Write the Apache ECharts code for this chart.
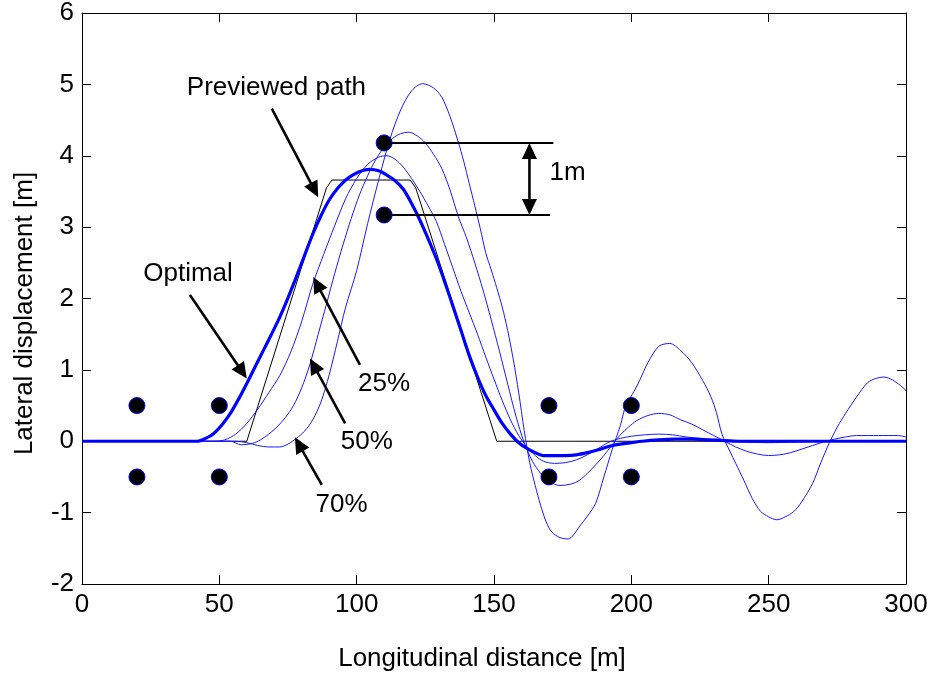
<!DOCTYPE html>
<html>
<head>
<meta charset="utf-8">
<script src="https://cdn.jsdelivr.net/npm/echarts@6/dist/echarts.min.js"></script>
<style>
html,body{margin:0;padding:0;background:#fff;}
#chart{width:935px;height:681px;}
</style>
</head>
<body>
<div id="chart"></div>
<script>
// ---- axis ticks ----
const xTicks = [0, 50, 100, 150, 200, 250, 300];
const yTicks = [-2, -1, 0, 1, 2, 3, 4, 5, 6];

// ---- previewed path (black) ----
const previewX = [0, 60, 89, 91, 119.5, 121.5, 151, 300];
const previewY = [0, 0, 3.55, 3.66, 3.66, 3.55, 0, 0];

// ---- optimal (thick blue) ----
const optX = [0,42,45,48,51,54,57,60,63,66,69,72,75,78,81,84,87,90,93,96,99,102,105,108,111,114,117,120,123,126,129,132,135,138,141,144,147,150,153,156,159,162,165,168,172,176,180,184,188,192,196,200,204,210,216,222,228,234,240,300];
const optY = [0,0,0.04,0.11,0.23,0.39,0.59,0.81,1.04,1.27,1.5,1.74,2.01,2.3,2.6,2.9,3.16,3.38,3.54,3.66,3.74,3.79,3.81,3.79,3.73,3.65,3.53,3.33,3.1,2.84,2.56,2.24,1.9,1.55,1.2,0.9,0.64,0.44,0.25,0.1,-0.02,-0.1,-0.16,-0.2,-0.2,-0.2,-0.19,-0.16,-0.12,-0.07,-0.04,-0.02,0,0.02,0.03,0.03,0.02,0.01,0,0];

// ---- 25% ----
const p25X = [0,48,52,56,60,64,68,72,76,80,84,88,92,96,100,104,108,111,114,117,120,123,126,129,132,135,138,141,144,147,150,153,156,159,162,165,168,172,176,180,184,188,192,196,200,205,210,215,220,225,230,235,240,250,260,270,280,290,300];
const p25Y = [0,0,0.02,0.1,0.25,0.45,0.68,0.92,1.25,1.68,2.2,2.62,3.02,3.4,3.68,3.88,3.98,4.0,3.95,3.84,3.68,3.5,3.3,3.08,2.76,2.43,2.1,1.8,1.5,1.18,0.87,0.57,0.3,0.08,-0.08,-0.2,-0.28,-0.31,-0.3,-0.26,-0.19,-0.1,-0.01,0.04,0.07,0.09,0.1,0.09,0.06,0.04,0.02,0,-0.01,-0.02,-0.01,0,0.01,0.01,0];

// ---- 50% ----
const p50X = [0,54,58,62,65,68,71,74,77,80,83,86,89,92,95,98,101,104,107,110,113,116,119,122,125,128,131,134,137,140,143,146,149,152,155,158,161,164,167,170,174,178,181,184,187,190,193,196,199,202,206,210,214,218,222,226,230,234,238,242,246,250,254,258,262,266,270,274,278,282,290,297,300];
const p50Y = [0,0,-0.05,-0.03,0.02,0.1,0.2,0.33,0.5,0.75,1.08,1.5,1.92,2.35,2.75,3.12,3.45,3.72,3.95,4.12,4.24,4.31,4.33,4.28,4.18,4.02,3.82,3.52,3.15,2.85,2.5,2.12,1.7,1.26,0.8,0.35,-0.02,-0.28,-0.45,-0.56,-0.62,-0.6,-0.55,-0.45,-0.33,-0.2,-0.05,0.09,0.2,0.29,0.36,0.39,0.37,0.3,0.24,0.16,0.08,0,-0.08,-0.14,-0.18,-0.2,-0.19,-0.16,-0.11,-0.06,-0.01,0.03,0.06,0.08,0.08,0.08,0.06];

// ---- 70% ----
const p70X = [0,56,60,64,68,72,75,78,81,84,87,90,93,96,100,104,108,112,116,120,124,128,131,134,137,139,141,143,145,147,149,151,153,155,157,159,161,163,165,167,169,171,174,177,179,181,184,187,190,193,196,198,201,203,206,210,214,218,222,226,229,231,233,236,238,241,244,247,250,253,256,259,262,266,269,272,275,278,282,286,289,292,295,298,300];
const p70Y = [0,0,-0.02,-0.06,-0.08,-0.08,-0.04,0.04,0.14,0.3,0.55,0.93,1.4,1.88,2.39,3.05,3.66,4.22,4.64,4.91,5.01,4.95,4.82,4.55,4.19,3.92,3.61,3.3,2.98,2.64,2.4,2.15,1.88,1.55,1.15,0.68,0.15,-0.3,-0.62,-0.9,-1.13,-1.27,-1.35,-1.37,-1.31,-1.2,-1.05,-0.87,-0.5,-0.12,0.22,0.5,0.7,0.85,1.1,1.33,1.37,1.27,1.1,0.85,0.62,0.4,0.1,-0.15,-0.31,-0.55,-0.8,-0.98,-1.06,-1.1,-1.06,-0.99,-0.85,-0.59,-0.3,-0.03,0.2,0.39,0.62,0.82,0.88,0.9,0.86,0.78,0.71];

// ---- obstacle markers ----
const dotX = [20, 50, 20, 50, 110, 110, 170, 200, 170, 200];
const dotY = [0.5, 0.5, -0.5, -0.5, 4.18, 3.17, 0.5, 0.5, -0.5, -0.5];

// ---- annotations (data coordinates) ----
const labelText = ['Previewed path', 'Optimal', '25%', '50%', '70%', '1m'];
const labelX = [70.8, 38.6, 110, 103.7, 94.5, 176.8];
const labelY = [4.95, 2.34, 0.80, -0.01, -0.89, 3.76];
const arrowFromX = [69.1, 39.3, 101.2, 95.8, 87.3, 162.9];
const arrowFromY = [4.66, 2.05, 1.07, 0.25, -0.61, 3.17];
const arrowToX = [86.0, 60.0, 84.2, 83.0, 77.5, 162.9];
const arrowToY = [3.42, 0.88, 2.30, 1.16, 0.055, 4.18];
const arrowBothEnds = [0, 0, 0, 0, 0, 1];
const gapLineY = [4.18, 3.17];
const gapLineX0 = 110;
const gapLineX1 = [171.6, 170.4];

const FONT = '"Liberation Sans", Arial, Helvetica, sans-serif';
const FS = 26;

function zip(xs, ys) { return xs.map((x, i) => [x, ys[i]]); }

const chart = echarts.init(document.getElementById('chart'), null, {renderer: 'canvas'});

const axisCommon = {
  type: 'value',
  splitLine: {show: false},
  axisLine: {show: true, onZero: false, lineStyle: {color: '#000', width: 1}},
  axisTick: {show: true, inside: true, length: 9, lineStyle: {color: '#000', width: 1}}
};

const gapLines = gapLineY.map((y, i) => [
  {coord: [gapLineX0, y], symbol: 'none'},
  {coord: [gapLineX1[i], y], symbol: 'none'}
]);

function headPolygon(tip, ux, uy, len, half) {
  const bx = tip[0] - ux * len, by = tip[1] - uy * len;
  const nx = -uy, ny = ux;
  return [tip, [bx + nx * half, by + ny * half], [bx - nx * half, by - ny * half]];
}

function renderArrow(params, api) {
  const p0 = api.coord([api.value(0), api.value(1)]);
  const p1 = api.coord([api.value(2), api.value(3)]);
  const both = api.value(4) === 1;
  const len = 16, half = 7.5;
  const dx = p1[0] - p0[0], dy = p1[1] - p0[1];
  const L = Math.hypot(dx, dy);
  const ux = dx / L, uy = dy / L;
  const s0 = both ? [p0[0] + ux * len * 0.6, p0[1] + uy * len * 0.6] : p0;
  const s1 = [p1[0] - ux * len * 0.6, p1[1] - uy * len * 0.6];
  const children = [
    {type: 'line', shape: {x1: s0[0], y1: s0[1], x2: s1[0], y2: s1[1]}, style: {stroke: '#000', lineWidth: 2.6}},
    {type: 'polygon', shape: {points: headPolygon(p1, ux, uy, len, half)}, style: {fill: '#000'}}
  ];
  if (both) {
    children.push({type: 'polygon', shape: {points: headPolygon(p0, -ux, -uy, len, half)}, style: {fill: '#000'}});
  }
  return {type: 'group', children: children};
}

const option = {
  animation: false,
  backgroundColor: '#ffffff',
  grid: {left: 82, top: 13, right: 29, bottom: 97, containLabel: false},
  xAxis: [
    Object.assign({}, axisCommon, {
      min: xTicks[0], max: xTicks[xTicks.length - 1], interval: 50, position: 'bottom',
      axisLabel: {color: '#000', fontSize: FS, fontFamily: FONT, margin: 8},
      name: 'Longitudinal distance [m]', nameLocation: 'middle', nameGap: 62,
      nameTextStyle: {color: '#000', fontSize: FS, fontFamily: FONT, padding: [0, 24, 0, 0]}
    }),
    Object.assign({}, axisCommon, {
      min: xTicks[0], max: xTicks[xTicks.length - 1], interval: 50, position: 'top',
      axisLabel: {show: false}
    })
  ],
  yAxis: [
    Object.assign({}, axisCommon, {
      min: yTicks[0], max: yTicks[yTicks.length - 1], interval: 1, position: 'left',
      axisLabel: {color: '#000', fontSize: FS, fontFamily: FONT, margin: 8},
      name: 'Lateral displacement [m]', nameLocation: 'middle', nameGap: 44,
      nameTextStyle: {color: '#000', fontSize: FS, fontFamily: FONT, padding: [0, 30, 0, 0]}
    }),
    Object.assign({}, axisCommon, {
      min: yTicks[0], max: yTicks[yTicks.length - 1], interval: 1, position: 'right',
      axisLabel: {show: false}
    })
  ],
  series: [
    {
      name: 'Previewed path', type: 'line', data: zip(previewX, previewY),
      showSymbol: false, lineStyle: {color: '#000', width: 1}, z: 2
    },
    {
      name: '70%', type: 'line', data: zip(p70X, p70Y), smooth: 0.3,
      showSymbol: false, lineStyle: {color: '#1a1aff', width: 1}, z: 3
    },
    {
      name: '50%', type: 'line', data: zip(p50X, p50Y), smooth: 0.3,
      showSymbol: false, lineStyle: {color: '#1a1aff', width: 1}, z: 3
    },
    {
      name: '25%', type: 'line', data: zip(p25X, p25Y), smooth: 0.3,
      showSymbol: false, lineStyle: {color: '#1a1aff', width: 1}, z: 3
    },
    {
      name: 'Optimal', type: 'line', data: zip(optX, optY), smooth: 0.3,
      showSymbol: false, lineStyle: {color: '#0000ff', width: 3.2}, z: 4
    },
    {
      name: 'gaplines', type: 'line', data: [], z: 5,
      markLine: {
        silent: true, animation: false, symbol: 'none',
        label: {show: false},
        lineStyle: {color: '#000', width: 2, type: 'solid'},
        data: gapLines
      }
    },
    {
      name: 'obstacles', type: 'scatter', data: zip(dotX, dotY),
      symbol: 'circle', symbolSize: 16,
      itemStyle: {color: '#000', borderColor: '#0000ff', borderWidth: 1, opacity: 1}, z: 6
    },
    {
      name: 'arrows', type: 'custom', coordinateSystem: 'cartesian2d',
      renderItem: renderArrow, clip: false, silent: true, z: 7,
      data: arrowFromX.map((x, i) => [x, arrowFromY[i], arrowToX[i], arrowToY[i], arrowBothEnds[i]])
    },
    {
      name: 'annotations', type: 'scatter',
      data: labelText.map((t, i) => ({name: t, value: [labelX[i], labelY[i]]})),
      symbolSize: 1, itemStyle: {color: 'rgba(0,0,0,0)', opacity: 1},
      label: {show: true, position: 'inside', formatter: '{b}', color: '#000', fontSize: FS, fontFamily: FONT},
      silent: true, z: 8
    }
  ]
};
chart.setOption(option);
</script>
</body>
</html>
